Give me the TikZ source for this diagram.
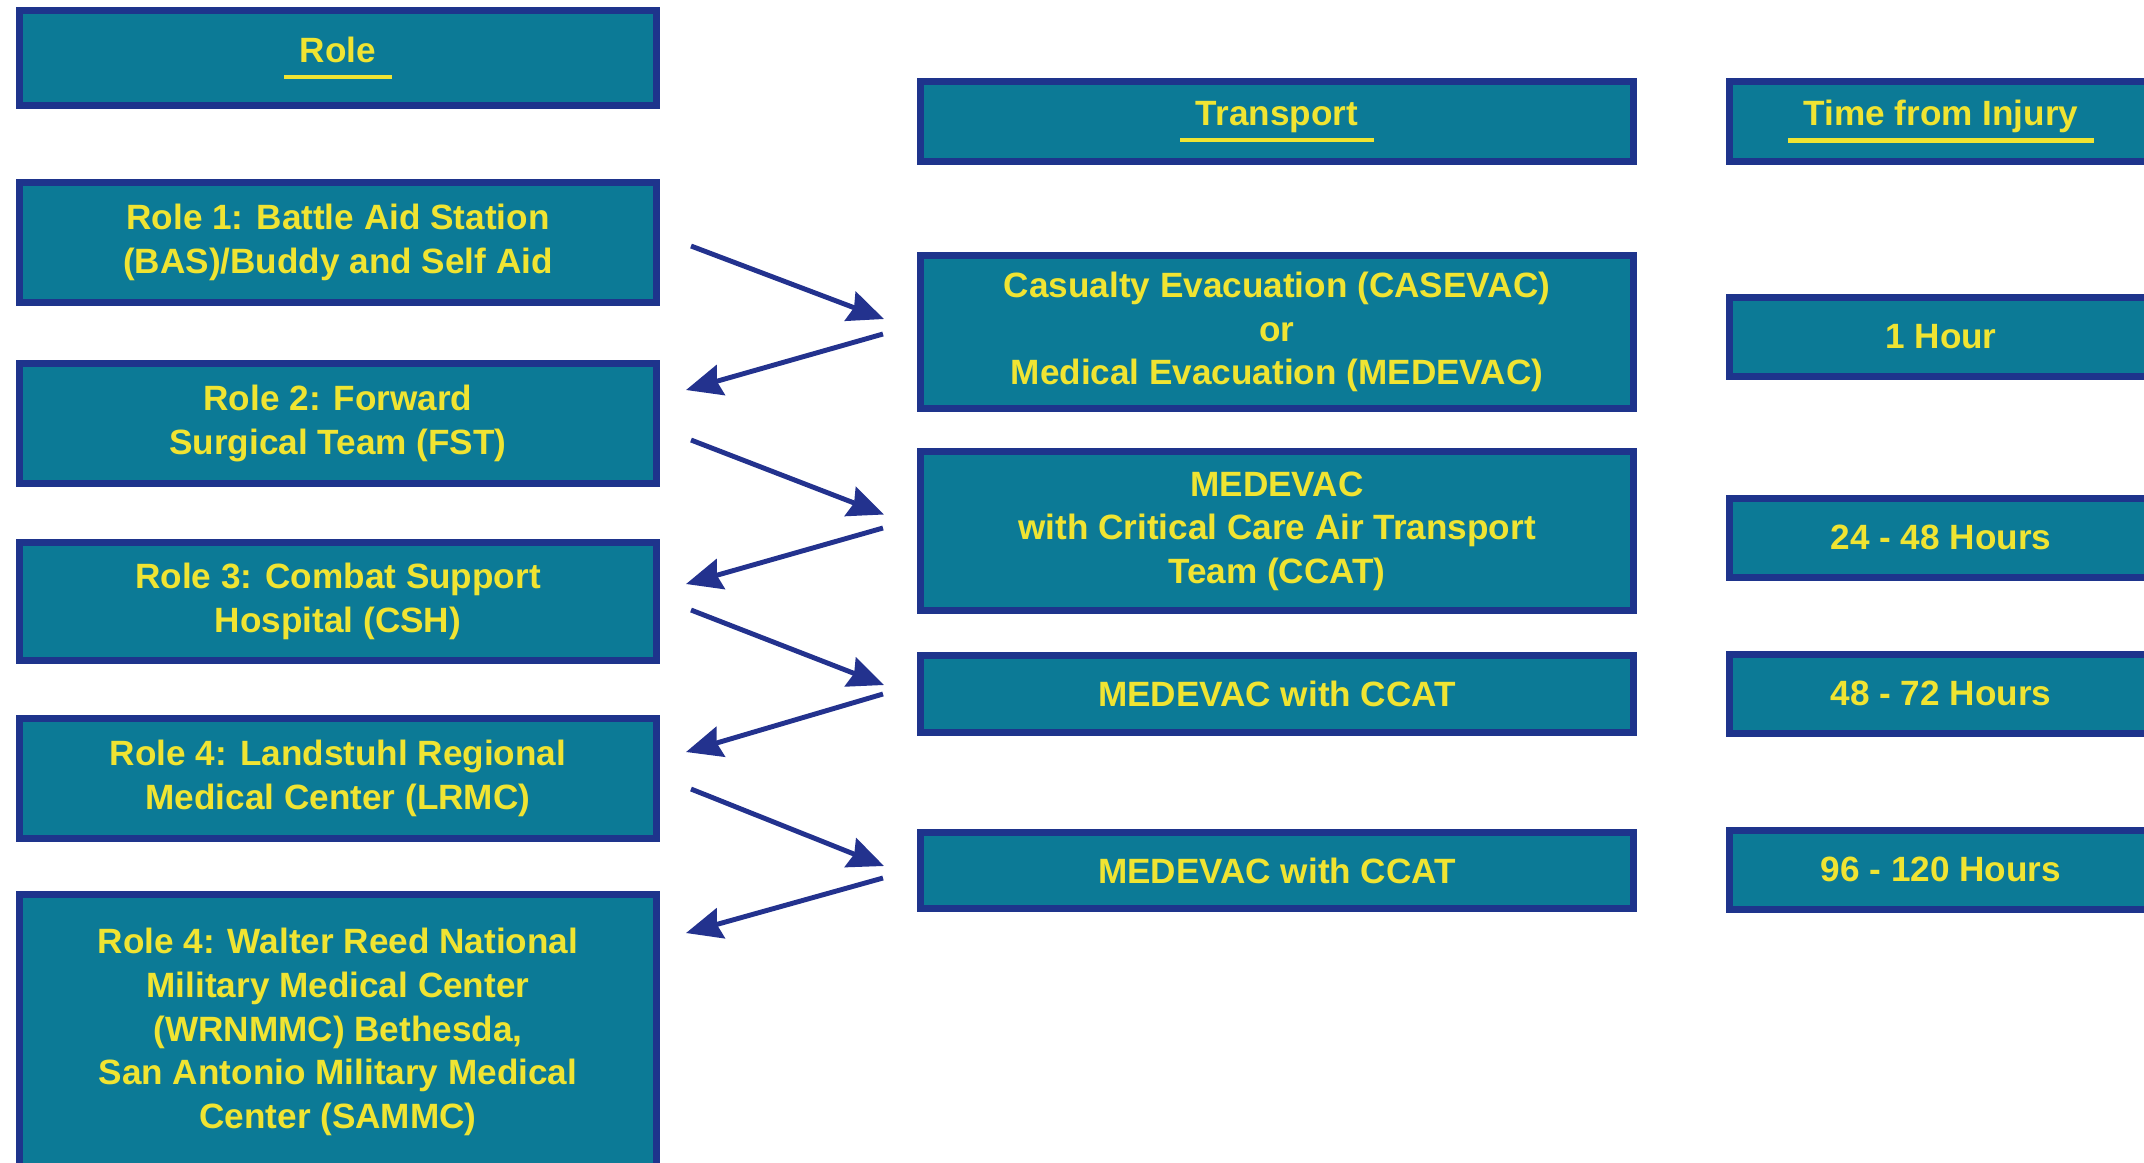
\documentclass[tikz,border=0pt]{standalone}
\usepackage{fontspec}
\setmainfont{Liberation Sans}
\usetikzlibrary{arrows.meta}
\usetikzlibrary{positioning}

\definecolor{boxfill}{RGB}{12,122,150}
\definecolor{boxline}{RGB}{30,52,140}
\definecolor{boxtext}{RGB}{240,228,50}
\definecolor{arrowblue}{RGB}{35,50,142}

% underlined column heading
\newcommand{\headline}[1]{%
  \setbox0=\hbox{\hspace{4.5pt}#1\hspace{4.5pt}}\dp0=2.6pt
  \vbox{\copy0\kern1pt\hrule height1.2pt width\wd0}}

\tikzset{
  stage/.style={draw=boxline, line width=2pt, fill=boxfill, text=boxtext,
    font=\fontsize{10}{12.4}\selectfont\bfseries, align=center, inner sep=0pt},
  rolebox/.style={stage, minimum width=6.37cm},
  carrybox/.style={stage, minimum width=7.13cm},
  timebox/.style={stage, minimum width=4.23cm, minimum height=0.79cm},
  flow/.style={draw=arrowblue, line width=1.4pt, -{Stealth[length=0.36cm,width=0.31cm,inset=0.04cm]}}
}

\begin{document}
\begin{tikzpicture}
    \useasboundingbox (0,0) rectangle (21.44,-11.62);

    % Role column
    \node[rolebox, minimum height=0.95cm] (rolehead) at (3.38,-0.58) {\headline{Role}};
    \node[rolebox, minimum height=1.20cm] (role1) at (3.38,-2.425) {Role 1: Battle Aid Station\\(BAS)/Buddy and Self Aid};
    \node[rolebox, minimum height=1.20cm] (role2) at (3.38,-4.235) {Role 2: Forward\\Surgical Team (FST)};
    \node[rolebox, minimum height=1.18cm] (role3) at (3.38,-6.015) {Role 3: Combat Support\\Hospital (CSH)};
    \node[rolebox, minimum height=1.20cm] (role4) at (3.38,-7.785) {Role 4: Landstuhl Regional\\Medical Center (LRMC)};
    \node[rolebox, minimum height=2.76cm] (role5) at (3.38,-10.32) {Role 4: Walter Reed National\\Military Medical Center\\(WRNMMC) Bethesda,\\San Antonio Military Medical\\Center (SAMMC)};

    % Transport column
    \node[carrybox, minimum height=0.80cm] (carryhead) at (12.77,-1.215) {\headline{Transport}};
    \node[carrybox, minimum height=1.53cm] (casevac) at (12.77,-3.32) {Casualty Evacuation (CASEVAC)\\or\\Medical Evacuation (MEDEVAC)};
    \node[carrybox, minimum height=1.59cm] (ccat) at (12.77,-5.31) {MEDEVAC\\with Critical Care Air Transport\\Team (CCAT)};
    \node[carrybox, minimum height=0.77cm] (medevac1) at (12.77,-6.94) {MEDEVAC with CCAT};
    \node[carrybox, minimum height=0.76cm] (medevac2) at (12.77,-8.705) {MEDEVAC with CCAT};

    % Time column
    \node[timebox, minimum height=0.80cm] (timehead) at (19.41,-1.215) {\headline{Time from Injury}};
    \foreach \lbl/\ypos [count=\i] in {1 Hour/3.37, 24 - 48 Hours/5.375, 48 - 72 Hours/6.935, 96 - 120 Hours/8.695} {
        \node[timebox] (time\i) at (19.41,-\ypos) {\lbl};
    }

    % Out and back arrows
    \draw[flow] ([xshift=0.31cm,yshift=-0.035cm]role1.east) -- ([xshift=-0.33cm,yshift=0.13cm]casevac.west);
    \draw[flow] ([xshift=-0.34cm,yshift=-0.02cm]casevac.west) -- ([xshift=0.26cm,yshift=0.335cm]role2.east);
    \draw[flow] ([xshift=0.31cm,yshift=-0.165cm]role2.east) -- ([xshift=-0.33cm,yshift=0.165cm]ccat.west);
    \draw[flow] ([xshift=-0.34cm,yshift=0.03cm]ccat.west) -- ([xshift=0.26cm,yshift=0.175cm]role3.east);
    \draw[flow] ([xshift=0.31cm,yshift=-0.085cm]role3.east) -- ([xshift=-0.33cm,yshift=0.09cm]medevac1.west);
    \draw[flow] ([xshift=-0.34cm]medevac1.west) -- ([xshift=0.26cm,yshift=0.265cm]role4.east);
    \draw[flow] ([xshift=0.31cm,yshift=-0.105cm]role4.east) -- ([xshift=-0.33cm,yshift=0.045cm]medevac2.west);
    \draw[flow] ([xshift=-0.34cm,yshift=-0.075cm]medevac2.west) -- ([xshift=0.26cm,yshift=0.99cm]role5.east);
\end{tikzpicture}
\end{document}
